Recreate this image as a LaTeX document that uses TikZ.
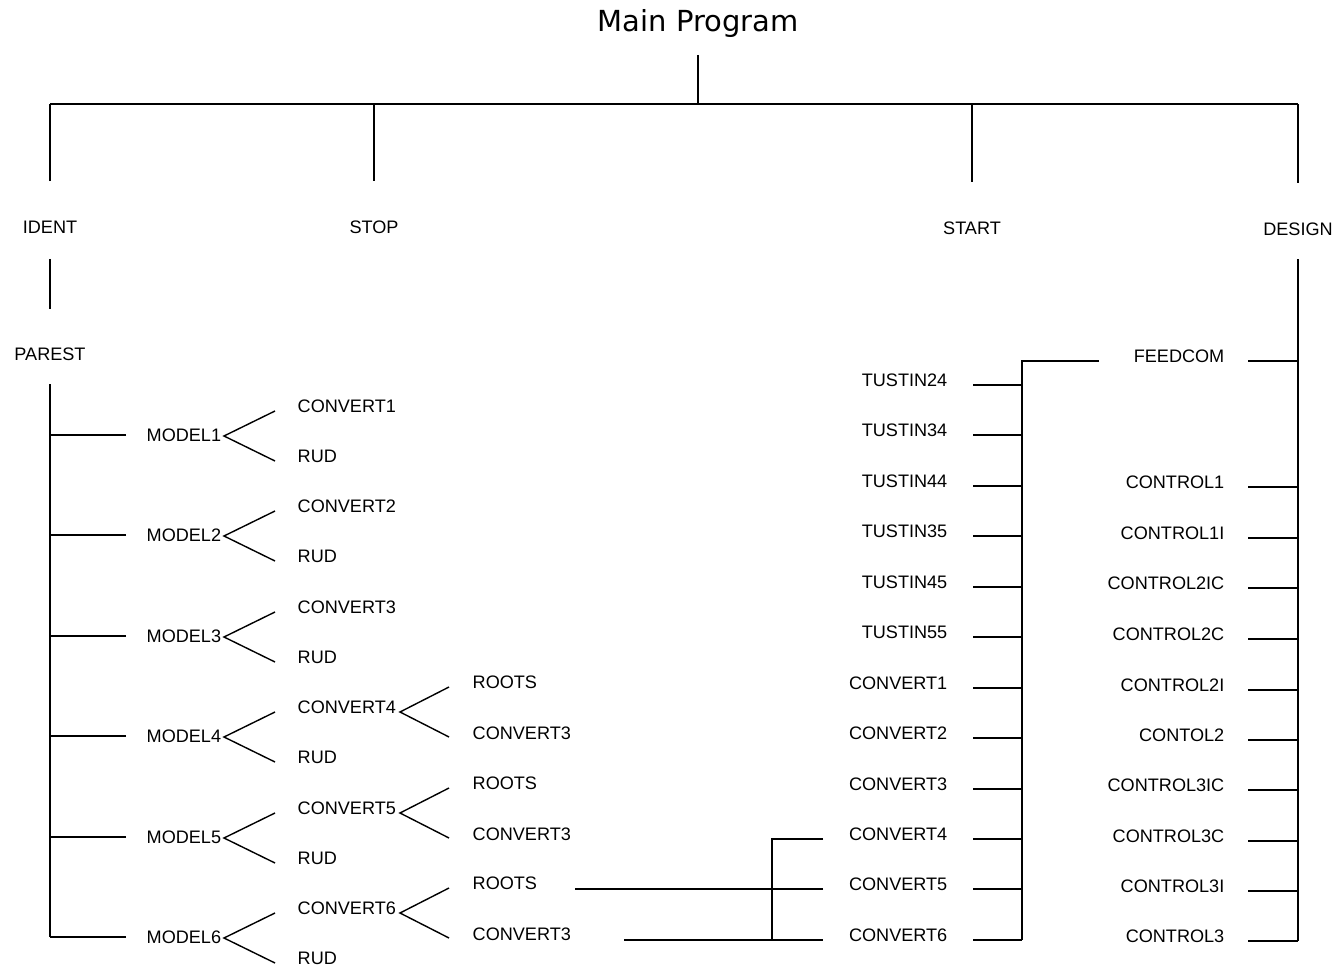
\documentclass[tikz,border=0pt]{standalone}
\usepackage{fontspec}
\setmainfont{Liberation Sans}
\newfontfamily\headfont{DejaVu Sans}
\begin{document}
\begin{tikzpicture}[x=0.02cm, y=-0.02cm, line width=0.8pt]
    \tikzstyle{lbl} = [inner sep=0pt, font=\fontsize{10.3}{12}\selectfont]
    \tikzstyle{heading} = [inner sep=0pt, anchor=base, font=\headfont\fontsize{16.5}{19}\selectfont]

    \useasboundingbox (0,0) rectangle (1339,969);

    \node (main) [heading] at (698,32) {Main Program};
    \node (ident) [lbl] at (50,227) {IDENT};
    \node (stop) [lbl] at (374,227) {STOP};
    \node (start) [lbl] at (972,228) {START};
    \node (design) [lbl] at (1298,229) {DESIGN};
    \node (parest) [lbl] at (50,354) {PAREST};

    % top level
    \coordinate (busL) at (50,104);
    \coordinate (busR) at (1298,104);
    \draw (main.base) ++(0,23) -- (main |- busL);
    \draw (busL) -- (busR);
    \foreach \t in {ident,stop,start,design}
        \draw (\t.north) ++(0,-39) -- (\t |- busL);
    \draw (ident.south) ++(0,25) -- ++(0,50);

    % IDENT branch
    \coordinate (pb) at (50,937);
    \draw (parest.south) ++(0,23) -- (pb);
    \foreach \k in {1,...,6} {
        \pgfmathsetmacro\ym{round(435+(\k-1)*100.4)}
        \node (model\k) [lbl, anchor=west] at (146,\ym) {MODEL\k};
        \draw (model\k.west) ++(-20,0) -- (parest |- model\k);
        \coordinate (fk\k) at (224,\ym+1);
        \draw (fk\k) ++(51,-25) -- (fk\k) -- ++(51,25);
        \node (cv\k) [lbl, anchor=west] at (297,\ym-29) {CONVERT\k};
        \node (rud\k) [lbl, anchor=west] at (297,\ym+21) {RUD};
        \ifnum\k>3
            \coordinate (fc\k) at (400,\ym-24);
            \draw (fc\k) ++(49,-25) -- (fc\k) -- ++(49,25);
            \node (roots\k) [lbl, anchor=west] at (472,\ym-54) {ROOTS};
            \node (cvt\k) [lbl, anchor=west] at (472,\ym-3) {CONVERT3};
        \fi
    }

    % START branch
    \foreach \n [count=\i from 0] in {TUSTIN24,TUSTIN34,TUSTIN44,TUSTIN35,TUSTIN45,TUSTIN55,CONVERT1,CONVERT2,CONVERT3,CONVERT4,CONVERT5,CONVERT6} {
        \pgfmathsetmacro\ys{round(380+\i*50.45)}
        \node (st\i) [lbl, anchor=east] at (948,\ys) {\n};
        \draw (st\i.east) ++(25,5) -- ++(49,0) coordinate (sr\i);
        \coordinate (in\i) at (823,\ys+5);
    }
    \coordinate (fd) at (1022,361);
    \draw (1099,361) -- (fd) -- (sr11);

    % links to CONVERT4..6
    \coordinate (jb) at (772,940);
    \draw (in9) -| (jb) -- (in11);
    \draw (jb) -- ++(-148,0);
    \draw (in10) -- ++(-248,0);

    % DESIGN branch
    \draw (design.south) ++(0,23) -- (1298,941);
    \foreach \n/\yd [count=\j] in {FEEDCOM/356,CONTROL1/482,CONTROL1I/533,CONTROL2IC/583,CONTROL2C/634,CONTROL2I/685,CONTOL2/735,CONTROL3IC/785,CONTROL3C/836,CONTROL3I/886,CONTROL3/936} {
        \node (ds\j) [lbl, anchor=east] at (1225,\yd) {\n};
        \draw (ds\j.east) ++(23,5) -- (design |- {0,\yd+5});
    }
\end{tikzpicture}
\end{document}
